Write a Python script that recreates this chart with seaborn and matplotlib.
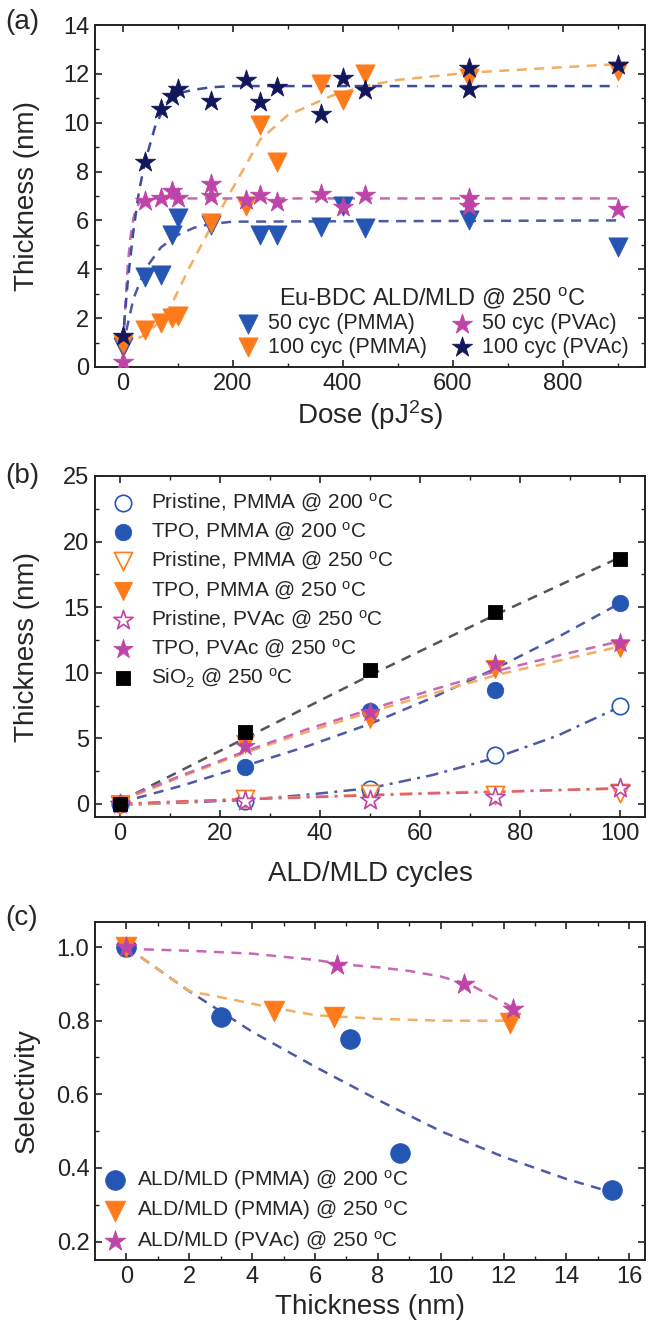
import numpy as np
import pandas as pd
import matplotlib
matplotlib.use("Agg")
import matplotlib.pyplot as plt
import seaborn as sns

# ---------------- panel (a): thickness vs dose ----------------
dose_50_pmma = [0, 40, 70, 90, 100, 160, 250, 280, 360, 400, 440, 630, 900]
thk_50_pmma = [0.8, 3.7, 3.75, 5.4, 6.1, 5.8, 5.4, 5.4, 5.75, 6.6, 5.7, 6.0, 4.9]

dose_100_pmma = [0, 40, 70, 90, 100, 160, 225, 250, 280, 360, 400, 440, 630, 900]
thk_100_pmma = [0.95, 1.5, 1.8, 2.0, 2.1, 5.9, 6.6, 9.9, 8.4, 11.6, 10.95, 12.0, 11.85, 12.1]

dose_50_pvac = [0, 40, 70, 90, 100, 160, 160, 225, 250, 280, 360, 400, 440, 630, 630, 900]
thk_50_pvac = [0.2, 6.8, 6.9, 7.2, 6.9, 7.5, 7.0, 6.85, 7.05, 6.75, 7.1, 6.55, 7.05, 6.9, 6.6, 6.45]

dose_100_pvac = [0, 40, 70, 90, 100, 160, 225, 250, 280, 360, 400, 440, 630, 630, 900]
thk_100_pvac = [1.25, 8.4, 10.55, 11.1, 11.4, 10.9, 11.75, 10.85, 11.45, 10.35, 11.85, 11.35, 12.25, 11.4, 12.35]

# fit curves
fit_x_50_pmma = [0, 20, 41, 70, 100, 130, 160, 200, 900]
fit_y_50_pmma = [0.8, 2.8, 4.0, 4.9, 5.4, 5.7, 5.85, 5.95, 6.0]
fit_x_100_pmma = [0, 40, 70, 90, 120, 160, 200, 250, 300, 320, 380, 440, 500, 630, 900]
fit_y_100_pmma = [0.9, 1.3, 1.9, 2.6, 4.0, 5.7, 7.3, 9.3, 10.3, 10.5, 11.1, 11.5, 11.75, 12.05, 12.4]
fit_x_50_pvac = [0, 5, 10, 15, 20, 25, 30, 40, 60, 900]
fit_y_50_pvac = [0.2, 2.5, 4.3, 5.4, 6.1, 6.5, 6.7, 6.85, 6.9, 6.9]
fit_x_100_pvac = [0, 10, 20, 30, 41, 60, 80, 100, 130, 160, 200, 900]
fit_y_100_pvac = [1.0, 3.6, 5.6, 7.2, 8.4, 9.9, 10.8, 11.2, 11.35, 11.45, 11.5, 11.5]

# ---------------- panel (b): thickness vs cycles ----------------
cycles = [0, 25, 50, 75, 100]
pris_pmma_200 = [0.0, 0.25, 1.1, 3.75, 7.45]
tpo_pmma_200 = [0.0, 2.85, 7.1, 8.65, 15.35]
pris_pmma_250 = [-0.1, 0.35, 0.75, 0.7, 0.8]
tpo_pmma_250 = [0.0, 4.6, 6.5, 10.3, 11.85]
pris_pvac_250 = [0.0, 0.2, 0.3, 0.5, 1.2]
tpo_pvac_250 = [0.0, 4.4, 7.0, 10.65, 12.3]
sio2_250 = [0.0, 5.45, 10.2, 14.65, 18.7]

fit_cyc = [0, 12.5, 25, 37.5, 50, 62.5, 75, 87.5, 100]
fit_sio2 = [0.2, 2.6, 5.0, 7.4, 9.8, 12.1, 14.4, 16.6, 18.8]
fit_tpo_pmma_200 = [0.1, 1.4, 2.9, 4.4, 6.1, 8.1, 10.3, 12.7, 15.3]
fit_tpo_pmma_250 = [0.2, 2.1, 3.9, 5.5, 7.0, 8.4, 9.8, 10.9, 12.0]
fit_tpo_pvac_250 = [0.3, 2.2, 4.0, 5.7, 7.2, 8.7, 10.1, 11.3, 12.4]
fit_pris_pmma_200 = [-0.1, 0.1, 0.3, 0.7, 1.2, 2.2, 3.5, 5.2, 7.4]
fit_pris_pmma_250 = [-0.1, 0.15, 0.4, 0.55, 0.7, 0.85, 0.95, 1.05, 1.15]
fit_pris_pvac_250 = [0.0, 0.2, 0.35, 0.5, 0.65, 0.8, 0.9, 1.05, 1.2]

# ---------------- panel (c): selectivity vs thickness ----------------
thk_c_200 = [0, 3.0, 7.1, 8.7, 15.45]
sel_c_200 = [1.0, 0.81, 0.75, 0.44, 0.34]
thk_c_250 = [0, 4.7, 6.6, 12.2]
sel_c_250 = [1.0, 0.825, 0.81, 0.795]
thk_c_pvac = [0, 6.7, 10.75, 12.3]
sel_c_pvac = [1.0, 0.95, 0.90, 0.832]

fit_c_x_200 = [0, 2, 4, 6, 8, 10, 12, 14, 15.4]
fit_c_y_200 = [1.0, 0.88, 0.77, 0.675, 0.585, 0.50, 0.43, 0.37, 0.335]
fit_c_x_250 = [0, 2, 3.4, 4.35, 6, 8, 10, 12.2]
fit_c_y_250 = [1.0, 0.88, 0.857, 0.84, 0.815, 0.805, 0.80, 0.80]
fit_c_x_pvac = [0, 2, 4, 6, 7, 8, 9, 10, 11, 12.3]
fit_c_y_pvac = [0.995, 0.99, 0.982, 0.965, 0.952, 0.945, 0.935, 0.92, 0.895, 0.835]

# colours
BLUE = "#2656b4"
ORANGE = "#ff7a1a"
PINK = "#bf44a8"
NAVY = "#12175c"
BLACK = "#000000"
FIT_BLUE = "#4e5aa6"
FIT_ORANGE = "#f4ae62"
FIT_PINK = "#c868b4"
FIT_NAVY = "#3f4c9e"
FIT_GREY = "#555555"

DEG = r"$^{\mathrm{o}}$C"

sns.set_style("ticks")
plt.rcParams["font.family"] = ["Liberation Sans", "DejaVu Sans"]
plt.rcParams["mathtext.fontset"] = "custom"
plt.rcParams["mathtext.rm"] = "Liberation Sans"
plt.rcParams["mathtext.it"] = "Liberation Sans:italic"
plt.rcParams["axes.linewidth"] = 1.4
plt.rcParams["axes.edgecolor"] = "#222222"
for k in ["xtick", "ytick"]:
    plt.rcParams[k + ".direction"] = "in"
    plt.rcParams[k + ".major.size"] = 5
    plt.rcParams[k + ".minor.size"] = 3
    plt.rcParams[k + ".major.width"] = 1.2
    plt.rcParams[k + ".minor.width"] = 1.0
    plt.rcParams[k + ".labelsize"] = 17
    plt.rcParams[k + ".color"] = "#222222"
plt.rcParams["xtick.top"] = True
plt.rcParams["ytick.right"] = True

W, H = 648, 1331
fig = plt.figure(figsize=(W / 100, H / 100), dpi=100)


def box(l, t, r, b):
    return [l / W, 1 - b / H, (r - l) / W, (b - t) / H]


ax_a = fig.add_axes(box(95, 25, 645, 367))
ax_b = fig.add_axes(box(95, 476, 645, 817))
ax_c = fig.add_axes(box(95, 922, 645, 1260))

DASH = (0, (4, 3))
DASHDOT = (0, (5, 2.5, 1.2, 2.5))


def fit(ax, x, y, color, ls=DASH):
    sns.lineplot(x=x, y=y, ax=ax, color=color, linestyle=ls, lw=1.8, zorder=1,
                 sort=True, estimator=None)


def pts(ax, x, y, color, marker, s, label, hollow=False):
    kw = dict(facecolor="white", edgecolor=color, linewidth=1.2) if hollow \
        else dict(edgecolor=color, linewidth=0.6)
    sns.scatterplot(x=x, y=y, ax=ax, color=color, marker=marker, s=s,
                    label=label, zorder=3, **kw)


# ---- (a)
fit(ax_a, fit_x_50_pmma, fit_y_50_pmma, FIT_BLUE)
fit(ax_a, fit_x_100_pmma, fit_y_100_pmma, FIT_ORANGE)
fit(ax_a, fit_x_50_pvac, fit_y_50_pvac, FIT_PINK)
fit(ax_a, fit_x_100_pvac, fit_y_100_pvac, FIT_NAVY)
pts(ax_a, dose_50_pmma, thk_50_pmma, BLUE, "v", 190, "50 cyc (PMMA)")
pts(ax_a, dose_100_pmma, thk_100_pmma, ORANGE, "v", 190, "100 cyc (PMMA)")
pts(ax_a, dose_50_pvac, thk_50_pvac, PINK, "*", 230, "50 cyc (PVAc)")
pts(ax_a, dose_100_pvac, thk_100_pvac, NAVY, "*", 230, "100 cyc (PVAc)")
ax_a.set_xlim(-50, 950)
ax_a.set_ylim(0, 14)
ax_a.set_xticks([0, 200, 400, 600, 800])
ax_a.set_xticks(np.arange(-0, 950, 100), minor=True)
ax_a.set_yticks(np.arange(0, 15, 2))
ax_a.set_yticks(np.arange(0, 15, 1), minor=True)
ax_a.set_xlabel("Dose (pJ$^{2}$s)", fontsize=20)
ax_a.set_ylabel("Thickness (nm)", fontsize=20)
ax_a.legend(ncol=2, loc="lower right", bbox_to_anchor=(0.975, 0.02), frameon=False,
            title="Eu-BDC ALD/MLD @ 250 " + DEG, title_fontsize=17, fontsize=15.5,
            handletextpad=0.35, columnspacing=1.0, labelspacing=0.12,
            handlelength=1.2, borderpad=0.1, borderaxespad=0.0)

# ---- (b)
fit(ax_b, fit_cyc, fit_sio2, FIT_GREY)
fit(ax_b, fit_cyc, fit_tpo_pmma_200, FIT_BLUE)
fit(ax_b, fit_cyc, fit_tpo_pmma_250, FIT_ORANGE)
fit(ax_b, fit_cyc, fit_tpo_pvac_250, FIT_PINK)
fit(ax_b, fit_cyc, fit_pris_pmma_200, FIT_BLUE, DASHDOT)
fit(ax_b, fit_cyc, fit_pris_pmma_250, FIT_ORANGE, DASHDOT)
fit(ax_b, fit_cyc, fit_pris_pvac_250, "#e0607a", DASHDOT)
pts(ax_b, cycles, pris_pmma_200, BLUE, "o", 140, "Pristine, PMMA @ 200 " + DEG, hollow=True)
pts(ax_b, cycles, tpo_pmma_200, BLUE, "o", 140, "TPO, PMMA @ 200 " + DEG)
pts(ax_b, cycles, pris_pmma_250, ORANGE, "v", 170, "Pristine, PMMA @ 250 " + DEG, hollow=True)
pts(ax_b, cycles, tpo_pmma_250, ORANGE, "v", 170, "TPO, PMMA @ 250 " + DEG)
pts(ax_b, cycles, pris_pvac_250, PINK, "*", 210, "Pristine, PVAc @ 250 " + DEG, hollow=True)
pts(ax_b, cycles, tpo_pvac_250, PINK, "*", 210, "TPO, PVAc @ 250 " + DEG)
pts(ax_b, cycles, sio2_250, BLACK, "s", 110, "SiO$_{2}$ @ 250 " + DEG)
ax_b.set_xlim(-5, 105)
ax_b.set_ylim(-1, 25)
ax_b.set_xticks([0, 20, 40, 60, 80, 100])
ax_b.set_xticks(np.arange(0, 105, 10), minor=True)
ax_b.set_yticks(np.arange(0, 26, 5))
ax_b.set_yticks(np.arange(0, 25.1, 2.5), minor=True)
ax_b.set_xlabel("ALD/MLD cycles", fontsize=20)
ax_b.set_ylabel("Thickness (nm)", fontsize=20)
ax_b.legend(loc="upper left", frameon=False, fontsize=15, handletextpad=0.75,
            labelspacing=0.32, handlelength=1.2, borderpad=0.3, borderaxespad=0.45)

# ---- (c)
fit(ax_c, fit_c_x_200, fit_c_y_200, FIT_BLUE)
fit(ax_c, fit_c_x_250, fit_c_y_250, FIT_ORANGE)
fit(ax_c, fit_c_x_pvac, fit_c_y_pvac, FIT_PINK)
pts(ax_c, thk_c_200, sel_c_200, BLUE, "o", 200, "ALD/MLD (PMMA) @ 200 " + DEG)
pts(ax_c, thk_c_250, sel_c_250, ORANGE, "v", 220, "ALD/MLD (PMMA) @ 250 " + DEG)
pts(ax_c, thk_c_pvac, sel_c_pvac, PINK, "*", 240, "ALD/MLD (PVAc) @ 250 " + DEG)
ax_c.set_xlim(-1, 16.5)
ax_c.set_ylim(0.15, 1.068)
ax_c.set_xticks(np.arange(0, 17, 2))
ax_c.set_xticks(np.arange(0, 17, 1), minor=True)
ax_c.set_yticks([0.2, 0.4, 0.6, 0.8, 1.0])
ax_c.set_yticks(np.arange(0.2, 1.05, 0.1), minor=True)
ax_c.set_yticklabels(["0.2", "0.4", "0.6", "0.8", "1.0"])
ax_c.set_xlabel("Thickness (nm)", fontsize=20)
ax_c.set_ylabel("Selectivity", fontsize=20)
ax_c.legend(loc="lower left", frameon=False, fontsize=15, handletextpad=0.45,
            labelspacing=0.3, handlelength=1.2, borderpad=0.2, borderaxespad=0.15)

for ax in (ax_a, ax_b, ax_c):
    ax.tick_params(which="both", top=True, right=True, labeltop=False, labelright=False)
    ax.tick_params(which="major", pad=4)
    ax.yaxis.set_label_coords(-0.1, 0.5)
    ax.xaxis.set_label_coords(0.5, -0.09)

ax_b.xaxis.set_label_coords(0.5, -0.13)
ax_c.xaxis.set_label_coords(0.5, -0.1)

fig.text(5 / W, 1 - 22 / H, "(a)", fontsize=20, va="center", ha="left")
fig.text(5 / W, 1 - 476 / H, "(b)", fontsize=20, va="center", ha="left")
fig.text(5 / W, 1 - 918 / H, "(c)", fontsize=20, va="center", ha="left")

fig.savefig("out.png", dpi=100)
